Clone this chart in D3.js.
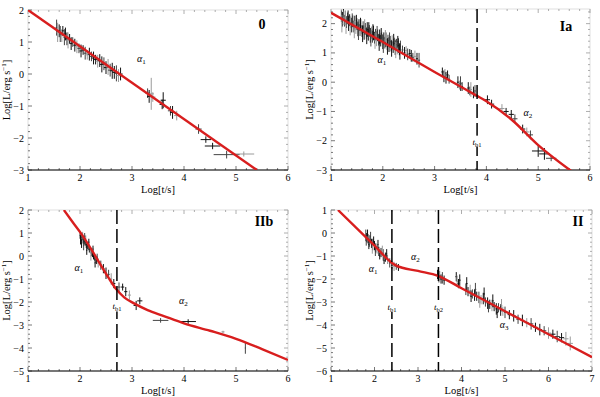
<!DOCTYPE html>
<html>
<head>
<meta charset="utf-8">
<script src="https://cdn.jsdelivr.net/npm/d3@7"></script>
<style>
  body { margin: 0; background: #fff; }
  text { font-family: "Liberation Serif", "DejaVu Serif", serif; }
</style>
</head>
<body>
<svg id="chart" width="600" height="397"></svg>
<script>
// points: [logT, logL, yErr, xErr]
const pts0 = [
  [1.55,1.45,0.25,0.02],[1.57,1.3,0.3,0.02],[1.6,1.35,0.2,0.02],[1.62,1.25,0.25,0.02],[1.65,1.2,0.2,0.02],
  [1.67,1.35,0.15,0.02],[1.7,1.15,0.25,0.02],[1.72,1.25,0.2,0.02],[1.75,1.1,0.2,0.02],[1.77,1.05,0.25,0.02],
  [1.8,1.1,0.15,0.02],[1.83,0.95,0.2,0.03],[1.86,1.0,0.15,0.03],[1.9,0.9,0.2,0.03],[1.94,0.85,0.2,0.03],
  [1.98,0.8,0.15,0.03],[2.02,0.72,0.2,0.03],[2.06,0.75,0.15,0.03],[2.1,0.65,0.2,0.03],[2.14,0.6,0.15,0.03],
  [2.18,0.62,0.2,0.03],[2.22,0.55,0.15,0.03],[2.26,0.5,0.2,0.04],[2.3,0.45,0.15,0.04],[2.34,0.4,0.2,0.04],
  [2.38,0.42,0.2,0.04],[2.42,0.3,0.25,0.04],[2.46,0.32,0.2,0.04],[2.5,0.2,0.2,0.04],[2.54,0.22,0.25,0.04],
  [2.58,0.12,0.2,0.04],[2.62,0.1,0.25,0.04],[2.66,0.05,0.2,0.04],[2.7,0.02,0.25,0.04],[2.74,-0.05,0.2,0.04],
  [2.78,0.0,0.2,0.04],[3.3,-0.6,0.15,0.04],[3.33,-0.7,0.2,0.04],[3.37,-0.62,0.5,0.05],[3.4,-0.72,0.15,0.05],
  [3.58,-0.95,0.15,0.05],[3.6,-0.82,0.25,0.05],[3.74,-1.15,0.15,0.05],[3.78,-1.2,0.2,0.05],[3.86,-1.3,0.15,0.05],
  [4.28,-1.72,0.15,0.06],[4.42,-2.05,0.1,0.1],[4.55,-2.25,0.1,0.15],[4.82,-2.52,0.12,0.25],[5.15,-2.5,0.08,0.2]
];
const ptsIa = [
  [1.2,2.25,0.2,0.01],[1.22,2.15,0.25,0.01],[1.24,2.3,0.2,0.01],[1.26,2.1,0.2,0.01],[1.28,2.2,0.25,0.01],
  [1.3,2.05,0.2,0.01],[1.32,2.18,0.2,0.01],[1.34,2.0,0.25,0.01],[1.36,2.12,0.2,0.01],[1.38,2.05,0.2,0.01],
  [1.4,1.95,0.25,0.01],[1.42,2.08,0.2,0.01],[1.44,1.9,0.2,0.01],[1.46,2.02,0.25,0.01],[1.48,1.85,0.2,0.01],
  [1.5,1.98,0.2,0.01],[1.52,1.82,0.25,0.01],[1.54,1.95,0.2,0.01],[1.56,1.78,0.2,0.01],[1.58,1.9,0.25,0.01],
  [1.6,1.75,0.2,0.01],[1.62,1.88,0.2,0.01],[1.64,1.7,0.25,0.01],[1.66,1.82,0.2,0.01],[1.68,1.68,0.2,0.01],
  [1.7,1.8,0.25,0.01],[1.72,1.62,0.2,0.01],[1.74,1.75,0.2,0.01],[1.76,1.6,0.25,0.01],[1.78,1.7,0.2,0.01],
  [1.8,1.55,0.2,0.01],[1.82,1.68,0.25,0.01],[1.84,1.52,0.2,0.01],[1.86,1.62,0.2,0.01],[1.88,1.48,0.25,0.01],
  [1.9,1.6,0.2,0.01],[1.92,1.45,0.2,0.01],[1.94,1.55,0.25,0.01],[1.96,1.42,0.2,0.01],[1.98,1.52,0.2,0.01],
  [2.0,1.38,0.25,0.01],[2.02,1.5,0.2,0.01],[2.04,1.35,0.2,0.01],[2.06,1.45,0.25,0.01],[2.08,1.3,0.2,0.01],
  [2.1,1.42,0.2,0.01],[2.12,1.28,0.25,0.01],[2.14,1.38,0.2,0.01],[2.16,1.25,0.2,0.01],[2.18,1.35,0.25,0.01],
  [2.2,1.2,0.2,0.01],[2.22,1.32,0.2,0.01],[2.24,1.18,0.25,0.01],[2.26,1.28,0.2,0.01],[2.28,1.15,0.2,0.01],
  [2.3,1.25,0.25,0.01],[2.32,1.12,0.2,0.01],[2.34,1.22,0.2,0.01],
  [1.21,2.0,0.3,0.01],[1.25,2.2,0.25,0.01],[1.29,1.95,0.3,0.01],[1.33,2.25,0.2,0.01],[1.37,1.9,0.3,0.01],
  [1.41,2.15,0.2,0.01],[1.45,1.8,0.3,0.01],[1.49,2.1,0.2,0.01],[1.53,1.72,0.28,0.01],[1.57,2.0,0.2,0.01],
  [1.61,1.65,0.28,0.01],[1.65,1.95,0.2,0.01],[1.69,1.58,0.28,0.01],[1.73,1.85,0.2,0.01],[1.77,1.5,0.28,0.01],
  [1.81,1.78,0.2,0.01],[1.85,1.42,0.28,0.01],[1.89,1.72,0.2,0.01],[1.93,1.35,0.28,0.01],[1.97,1.65,0.2,0.01],
  [2.01,1.28,0.28,0.01],[2.05,1.58,0.2,0.01],[2.09,1.22,0.28,0.01],[2.13,1.5,0.2,0.01],[2.17,1.15,0.28,0.01],
  [2.21,1.45,0.2,0.01],[2.25,1.1,0.28,0.01],[2.29,1.38,0.2,0.01],[2.33,1.05,0.28,0.01],
  [2.38,1.1,0.15,0.02],[2.42,1.0,0.2,0.02],[2.45,1.08,0.15,0.02],[2.48,0.95,0.2,0.02],[2.52,0.98,0.15,0.02],
  [2.55,0.9,0.2,0.02],[2.58,0.85,0.15,0.02],[2.62,0.88,0.2,0.02],[2.66,0.8,0.2,0.02],[2.7,0.75,0.25,0.02],
  [3.15,0.35,0.15,0.02],[3.18,0.2,0.2,0.02],[3.2,0.3,0.15,0.02],[3.22,0.15,0.2,0.02],[3.25,0.25,0.15,0.02],
  [3.28,0.1,0.15,0.02],[3.45,0.0,0.2,0.02],[3.48,-0.1,0.15,0.02],[3.5,-0.05,0.25,0.02],[3.53,-0.15,0.15,0.02],
  [3.65,-0.2,0.2,0.02],[3.68,-0.3,0.15,0.02],[3.7,-0.25,0.25,0.02],[3.75,-0.35,0.2,0.02],[3.78,-0.3,0.2,0.02],
  [4.02,-0.6,0.15,0.05],[4.1,-0.75,0.15,0.05],[4.3,-0.9,0.15,0.05],[4.38,-1.0,0.12,0.05],[4.48,-1.1,0.15,0.05],
  [4.55,-1.25,0.15,0.05],[4.7,-1.6,0.15,0.05],[4.78,-1.7,0.15,0.05],[4.85,-1.8,0.15,0.05],
  [5.0,-2.35,0.2,0.12],[5.12,-2.45,0.2,0.1],[5.25,-2.6,0.1,0.1]
];
const ptsIb = [
  [2.0,0.9,0.15,0.01],[2.02,0.8,0.15,0.01],[2.03,0.55,0.2,0.01],[2.04,0.85,0.15,0.01],[2.05,0.95,0.1,0.01],
  [2.06,0.7,0.15,0.01],[2.07,0.45,0.2,0.01],[2.08,0.65,0.15,0.01],[2.1,0.6,0.15,0.01],[2.11,0.75,0.15,0.01],
  [2.12,0.5,0.15,0.01],[2.14,0.45,0.15,0.01],[2.16,0.4,0.15,0.01],[2.18,0.3,0.15,0.01],[2.2,0.25,0.15,0.01],
  [2.22,0.15,0.15,0.01],[2.24,0.1,0.15,0.01],[2.26,0.0,0.15,0.01],[2.28,-0.05,0.15,0.01],[2.3,-0.15,0.15,0.01],
  [2.01,0.7,0.2,0.01],[2.09,0.85,0.15,0.01],[2.13,0.25,0.2,0.01],[2.17,0.6,0.15,0.01],[2.21,0.0,0.2,0.01],
  [2.25,0.3,0.15,0.01],[2.29,-0.3,0.2,0.01],[2.33,-0.05,0.15,0.01],
  [2.32,-0.2,0.15,0.01],[2.35,-0.3,0.2,0.01],[2.4,-0.4,0.2,0.02],[2.45,-0.55,0.2,0.02],[2.5,-0.75,0.25,0.02],
  [2.55,-0.8,0.2,0.02],[2.6,-1.0,0.25,0.02],[2.65,-1.2,0.2,0.03],[2.75,-1.35,0.2,0.03],[2.82,-1.35,0.15,0.03],
  [2.88,-1.55,0.2,0.03],[2.95,-1.7,0.2,0.03],[3.08,-2.15,0.2,0.05],[3.15,-1.95,0.15,0.05],
  [3.55,-2.8,0.1,0.15],[4.08,-2.85,0.1,0.15],[4.75,-3.3,0.05,0.03],[5.18,-4.0,0.25,0.01]
];
const ptsII = [
  [1.8,-0.1,0.25,0.01],[1.82,-0.2,0.2,0.01],[1.85,-0.25,0.2,0.01],[1.88,-0.35,0.25,0.01],[1.9,-0.3,0.2,0.01],
  [1.93,-0.45,0.2,0.01],[1.96,-0.5,0.25,0.01],[2.0,-0.55,0.2,0.01],[2.03,-0.65,0.2,0.01],[2.06,-0.7,0.2,0.01],
  [2.1,-0.8,0.2,0.01],[2.15,-0.85,0.2,0.01],[2.2,-0.95,0.25,0.01],[2.25,-1.05,0.2,0.01],[2.3,-1.15,0.2,0.02],
  [1.81,-0.35,0.2,0.01],[1.84,0.0,0.15,0.01],[1.87,-0.5,0.2,0.01],[1.91,-0.15,0.2,0.01],[1.95,-0.7,0.2,0.01],
  [1.98,-0.35,0.2,0.01],[2.02,-0.8,0.2,0.01],[2.08,-0.5,0.2,0.01],[2.12,-1.0,0.15,0.01],[2.18,-0.75,0.2,0.01],
  [2.22,-1.2,0.15,0.01],[2.28,-0.9,0.2,0.01],
  [2.35,-1.3,0.2,0.02],[2.4,-1.4,0.15,0.02],[2.45,-1.45,0.2,0.02],[2.5,-1.45,0.15,0.02],[2.55,-1.5,0.15,0.02],
  [3.45,-1.8,0.2,0.02],[3.48,-1.9,0.25,0.02],[3.5,-1.85,0.2,0.02],[3.53,-2.0,0.2,0.02],[3.56,-1.95,0.25,0.02],
  [3.6,-2.05,0.2,0.02],[3.88,-1.9,0.2,0.02],[3.9,-2.1,0.25,0.02],[3.93,-2.2,0.2,0.02],[3.96,-2.05,0.25,0.02],
  [4.1,-2.45,0.25,0.02],[4.15,-2.55,0.2,0.02],[4.2,-2.5,0.25,0.02],[4.25,-2.65,0.2,0.02],[4.3,-2.7,0.25,0.02],
  [4.35,-2.75,0.2,0.02],[4.4,-2.8,0.25,0.02],[4.45,-2.9,0.2,0.02],[4.5,-2.85,0.25,0.02],[4.55,-3.0,0.2,0.02],
  [4.6,-3.05,0.25,0.02],[4.65,-3.1,0.2,0.02],[4.7,-3.15,0.25,0.02],[4.75,-3.2,0.2,0.02],[4.8,-3.3,0.25,0.02],
  [4.85,-3.25,0.2,0.02],[4.9,-3.35,0.25,0.02],[4.95,-3.4,0.2,0.02],[5.0,-3.45,0.25,0.02],
  [4.12,-2.2,0.28,0.02],[4.22,-2.75,0.25,0.02],[4.32,-2.45,0.28,0.02],[4.42,-3.0,0.25,0.02],[4.52,-2.65,0.28,0.02],
  [4.62,-3.2,0.25,0.02],[4.72,-2.95,0.28,0.02],[4.82,-3.45,0.25,0.02],[4.92,-3.15,0.28,0.02],
  [5.1,-3.55,0.2,0.04],[5.2,-3.6,0.25,0.04],[5.3,-3.75,0.2,0.04],[5.4,-3.8,0.25,0.04],[5.5,-3.9,0.2,0.05],
  [5.6,-3.95,0.25,0.05],[5.7,-4.1,0.2,0.05],[5.8,-4.2,0.25,0.05],[5.9,-4.25,0.2,0.05],[6.0,-4.35,0.25,0.06],
  [6.1,-4.4,0.2,0.06],[6.2,-4.5,0.25,0.06],[6.3,-4.55,0.2,0.06],[6.4,-4.6,0.3,0.06],[6.5,-4.8,0.3,0.06]
];

// fitted light curves
const fit0 = [[1.0,2.0],[5.4,-3.0]];
const fitIa = [[1.0,2.37],[2.0,1.37],[3.0,0.35],[3.8,-0.45],[4.0,-0.65],[4.5,-1.3],[5.0,-2.15],[5.65,-3.05]];
const fitIb = [[1.69,2.0],[1.85,1.5],[2.03,0.95],[2.2,0.35],[2.38,-0.32],[2.55,-0.95],[2.7,-1.45],[2.85,-1.8],
  [3.03,-2.05],[3.3,-2.35],[3.6,-2.6],[4.0,-2.93],[4.5,-3.25],[5.0,-3.6],[5.5,-4.05],[6.0,-4.52]];
const fitII = [[1.16,1.0],[2.0,-0.55],[2.4,-1.3],[2.5,-1.42],[3.0,-1.65],[3.47,-1.87],[4.0,-2.4],[5.0,-3.4],[6.0,-4.4],[7.0,-5.4]];

// break times and slope labels
const breaks0 = [];
const breaksIa = [{t: 3.82, ly: -2.1, name: "b1"}];
const breaksIb = [{t: 2.71, ly: -2.28, name: "b1"}];
const breaksII = [{t: 2.4, ly: -3.3, name: "b1"}, {t: 3.47, ly: -3.3, name: "b2"}];
const alpha0 = [{x: 3.18, y: 0.47, n: "1"}];
const alphaIa = [{x: 1.98, y: 0.75, n: "1"}, {x: 4.8, y: -1.05, n: "2"}];
const alphaIb = [{x: 1.98, y: -0.5, n: "1"}, {x: 3.99, y: -1.96, n: "2"}];
const alphaII = [{x: 1.97, y: -1.56, n: "1"}, {x: 2.94, y: -1.05, n: "2"}, {x: 4.98, y: -4.02, n: "3"}];

const panels = [
  {name: "0", pts: pts0, fit: fit0, breaks: breaks0, alphas: alpha0, xd: [1, 6], yd: [-3, 2],
   box: {l: 28, r: 288, t: 10, b: 170}, lab: [262, 29]},
  {name: "Ia", pts: ptsIa, fit: fitIa, breaks: breaksIa, alphas: alphaIa, xd: [1, 6], yd: [-3, 2.5],
   box: {l: 331, r: 590, t: 9, b: 170}, lab: [566, 31]},
  {name: "IIb", pts: ptsIb, fit: fitIb, breaks: breaksIb, alphas: alphaIb, xd: [1, 6], yd: [-5, 2],
   box: {l: 28, r: 288, t: 210, b: 371}, lab: [264, 226]},
  {name: "II", pts: ptsII, fit: fitII, breaks: breaksII, alphas: alphaII, xd: [1, 7], yd: [-6, 1],
   box: {l: 331, r: 592, t: 210, b: 371}, lab: [578, 226]}
];

const svg = d3.select("#chart");
const fmt = d => d < 0 ? "\u2212" + Math.abs(d) : String(d);

panels.forEach((p, pi) => {
  const b = p.box;
  const x = d3.scaleLinear().domain(p.xd).range([b.l, b.r]);
  const y = d3.scaleLinear().domain(p.yd).range([b.b, b.t]);
  const g = svg.append("g");

  const clipId = "clip" + pi;
  g.append("clipPath").attr("id", clipId).append("rect")
    .attr("x", b.l).attr("y", b.t).attr("width", b.r - b.l).attr("height", b.b - b.t);

  // frame: light on left/top/right, black bottom
  g.append("rect").attr("x", b.l).attr("y", b.t).attr("width", b.r - b.l).attr("height", b.b - b.t)
    .attr("fill", "none").attr("stroke", "#d8d8d8").attr("stroke-width", 0.8);

  const xMajor = d3.range(p.xd[0], p.xd[1] + 0.001, 1);
  const xMinor = d3.range(p.xd[0], p.xd[1] + 0.001, 0.2);
  const yMajor = d3.range(Math.ceil(p.yd[0]), Math.floor(p.yd[1]) + 0.001, 1);
  const yMinor = d3.range(Math.ceil(p.yd[0]), p.yd[1] + 0.001, 0.2);

  // ticks (inward)
  const tk = g.append("g").attr("stroke", "#555").attr("stroke-width", 0.8);
  xMinor.forEach(v => {
    const len = xMajor.some(m => Math.abs(m - v) < 1e-6) ? 4 : 2;
    tk.append("line").attr("x1", x(v)).attr("x2", x(v)).attr("y1", b.b).attr("y2", b.b - len);
    tk.append("line").attr("x1", x(v)).attr("x2", x(v)).attr("y1", b.t).attr("y2", b.t + len).attr("stroke", "#999");
  });
  yMinor.forEach(v => {
    const len = yMajor.some(m => Math.abs(m - v) < 1e-6) ? 4 : 2;
    tk.append("line").attr("y1", y(v)).attr("y2", y(v)).attr("x1", b.l).attr("x2", b.l + len);
    tk.append("line").attr("y1", y(v)).attr("y2", y(v)).attr("x1", b.r).attr("x2", b.r - len).attr("stroke", "#999");
  });

  g.append("line").attr("x1", b.l).attr("x2", b.r).attr("y1", b.b).attr("y2", b.b)
    .attr("stroke", "#000").attr("stroke-width", 1.2);

  // tick labels
  g.selectAll(".xl").data(xMajor).enter().append("text")
    .attr("x", d => x(d)).attr("y", b.b + 11).attr("text-anchor", "middle")
    .attr("font-size", 10).text(d => d);
  g.selectAll(".yl").data(yMajor).enter().append("text")
    .attr("x", b.l - 4).attr("y", d => y(d) + 3.5).attr("text-anchor", "end")
    .attr("font-size", 10).text(fmt);

  // axis titles
  g.append("text").attr("x", (b.l + b.r) / 2).attr("y", b.b + 23).attr("text-anchor", "middle")
    .attr("font-size", 10.5).text("Log[t/s]");
  const yt = g.append("text")
    .attr("transform", `translate(${b.l - 18},${(b.t + b.b) / 2}) rotate(-90)`)
    .attr("text-anchor", "middle").attr("font-size", 10.5);
  yt.append("tspan").text("Log[L/erg s");
  yt.append("tspan").attr("dy", -4).attr("font-size", 7).text("\u22121");
  yt.append("tspan").attr("dy", 4).text("]");

  const plot = g.append("g").attr("clip-path", `url(#${clipId})`);

  // error bars
  const eb = plot.append("g").attr("stroke-width", 1);
  p.pts.forEach((d, i) => {
    const col = d[2] >= 0.3 || i % 5 === 4 ? "#9a9a9a" : (i % 3 === 0 ? "#444" : "#111");
    eb.append("line").attr("x1", x(d[0])).attr("x2", x(d[0]))
      .attr("y1", y(d[1] - d[2])).attr("y2", y(d[1] + d[2])).attr("stroke", col);
    eb.append("line").attr("x1", x(d[0] - d[3])).attr("x2", x(d[0] + d[3]))
      .attr("y1", y(d[1])).attr("y2", y(d[1])).attr("stroke", col);
  });

  // dashed break lines
  p.breaks.forEach(br => {
    g.append("line").attr("x1", x(br.t)).attr("x2", x(br.t)).attr("y1", b.t).attr("y2", b.b)
      .attr("stroke", "#000").attr("stroke-width", 1.5).attr("stroke-dasharray", "14,5");
    g.append("rect").attr("x", x(br.t) - 6).attr("y", y(br.ly) - 8).attr("width", 12).attr("height", 11)
      .attr("fill", "#fff");
    const t = g.append("text").attr("x", x(br.t)).attr("y", y(br.ly) + 1).attr("text-anchor", "middle")
      .attr("font-size", 9).attr("font-style", "italic").attr("fill", "#000");
    t.append("tspan").text("t");
    t.append("tspan").attr("dy", 2).attr("font-size", 6.5).attr("font-style", "normal").text(br.name);
  });

  // fit curve
  const line = d3.line().x(d => x(d[0])).y(d => y(d[1])).curve(d3.curveMonotoneX);
  plot.append("path").datum(p.fit).attr("d", line)
    .attr("fill", "none").attr("stroke", "#d81e1e").attr("stroke-width", 2.4);

  // slope labels
  p.alphas.forEach(a => {
    const t = g.append("text").attr("x", x(a.x)).attr("y", y(a.y) + 3).attr("text-anchor", "middle")
      .attr("font-size", 10).attr("font-style", "italic");
    t.append("tspan").text("\u03b1");
    t.append("tspan").attr("dy", 2).attr("font-size", 7).attr("font-style", "normal").text(a.n);
  });

  // panel name
  g.append("text").attr("x", p.lab[0]).attr("y", p.lab[1]).attr("text-anchor", "middle")
    .attr("font-size", 14).attr("font-weight", "bold").text(p.name);
});
</script>
</body>
</html>
